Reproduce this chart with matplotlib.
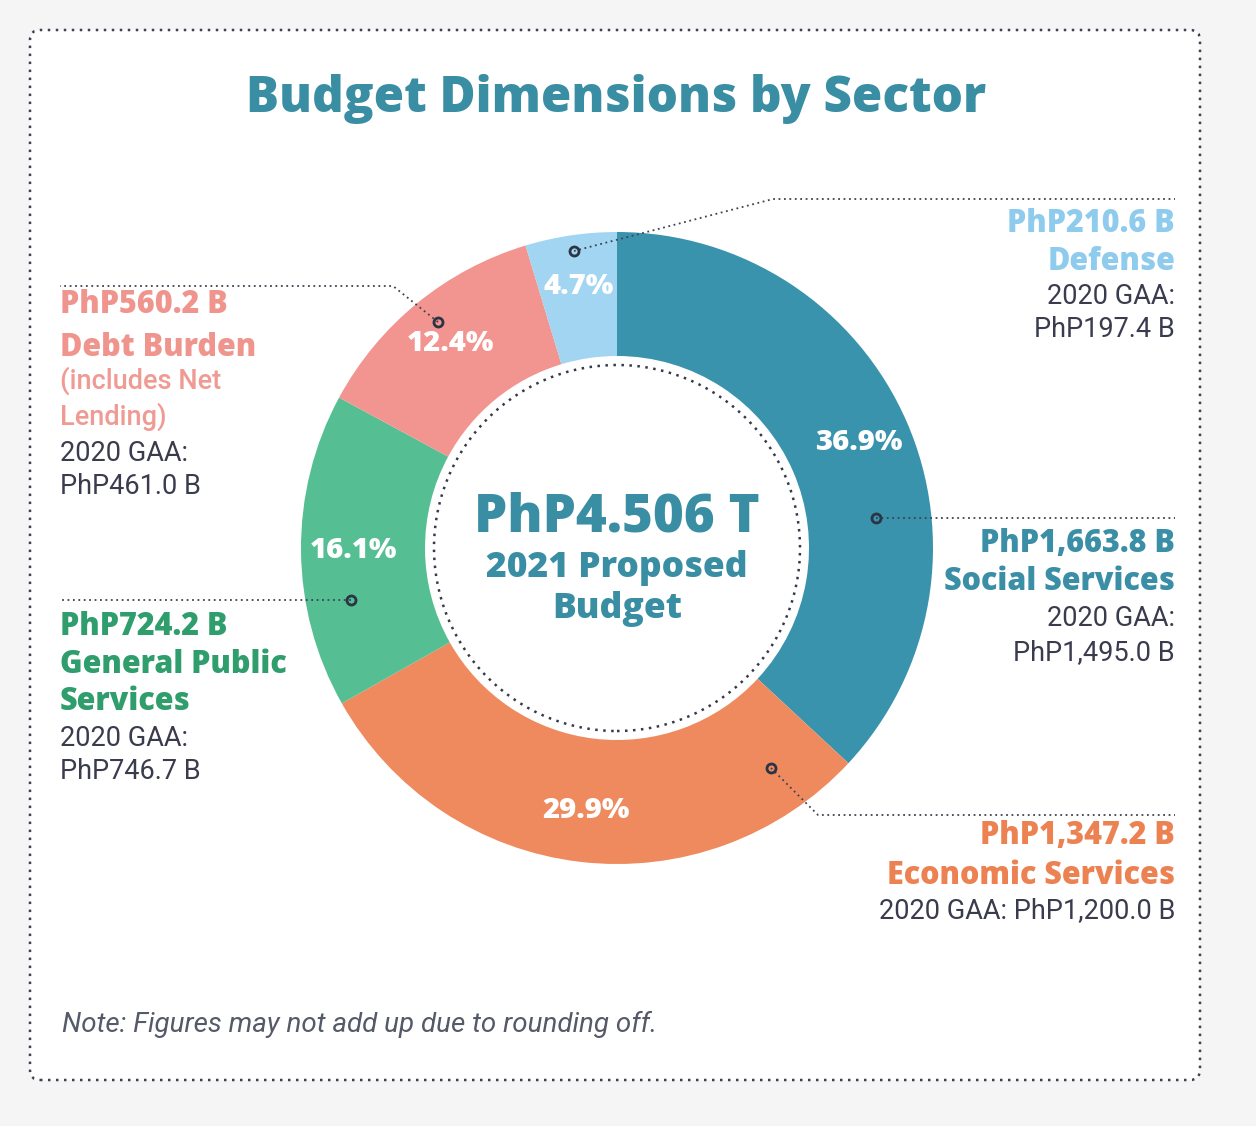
import matplotlib
matplotlib.use("Agg")
import matplotlib.pyplot as plt
from matplotlib.patches import FancyBboxPatch, Circle

# ---------------- data ----------------
sectors = ["Social Services", "Economic Services", "General Public Services",
           "Debt Burden", "Defense"]
amounts_2021 = [1663.8, 1347.2, 724.2, 560.2, 210.6]          # PhP billions
amount_labels = ["PhP1,663.8 B", "PhP1,347.2 B", "PhP724.2 B", "PhP560.2 B", "PhP210.6 B"]
gaa_2020_labels = ["PhP1,495.0 B", "PhP1,200.0 B", "PhP746.7 B", "PhP461.0 B", "PhP197.4 B"]
total_label = "PhP4.506 T"
title = "Budget Dimensions by Sector"
note = "Note: Figures may not add up due to rounding off."

wedge_colors = ["#3a93ac", "#ef8a5f", "#55bf93", "#f2948f", "#a2d5f1"]
label_colors = ["#3a8ea6", "#ec8152", "#2f9d6c", "#f0958e", "#8fcbec"]
DARK = "#3a3c4e"

W, H = 1256, 1126
BOLD = ["Open Sans", "DejaVu Sans"]
REG = ["Roboto", "DejaVu Sans"]

fig = plt.figure(figsize=(W / 100, H / 100), dpi=100)
fig.patch.set_facecolor("#f5f5f5")
ax = fig.add_axes([0, 0, 1, 1])


def Y(y):
    return H - y


# donut
cx, cy, R, ring = 617, 548, 316, 124
wedges, _, autotexts = ax.pie(
    amounts_2021, colors=wedge_colors, startangle=90, counterclock=False,
    radius=R, center=(cx, Y(cy)), autopct="%.1f%%", pctdistance=0.835,
    wedgeprops=dict(width=ring, edgecolor="none"),
    textprops=dict(color="white", fontsize=21, fontweight=800, family=BOLD))
for t in autotexts:
    t.set_zorder(5)

ax.set_xlim(0, W)
ax.set_ylim(0, H)
ax.set_aspect("equal")
ax.axis("off")

# outer dotted rounded frame
frame = FancyBboxPatch((30, Y(1080)), 1170, 1050,
                       boxstyle="round,pad=0,rounding_size=10",
                       facecolor="white", edgecolor="#3d4250",
                       linewidth=1.8, linestyle=(0, (1, 2.2)), zorder=0)
ax.add_patch(frame)

# inner dotted circle
ax.add_patch(Circle((cx, Y(cy)), 183, fill=False, edgecolor="#333a48",
                    linewidth=1.8, linestyle=(0, (1, 2.2)), zorder=4))

# title
ax.text(616, Y(112), title, ha="center", va="baseline", fontsize=35.5,
        fontweight=800, color="#3a8ea3", family=BOLD)

# center text
ax.text(cx, Y(531), total_label, ha="center", va="baseline", fontsize=38,
        fontweight=800, color="#3a8ea3", family=BOLD)
ax.text(cx, Y(577), "2021 Proposed", ha="center", va="baseline", fontsize=25.5,
        fontweight=800, color="#3a8ea3", family=BOLD)
ax.text(cx, Y(618), "Budget", ha="center", va="baseline", fontsize=25.5,
        fontweight=800, color="#3a8ea3", family=BOLD)

# leader lines + markers
LS = dict(color="#3d4250", linewidth=1.3, linestyle=(0, (1, 2)), zorder=6)
MK = dict(marker="o", markersize=6.5, markerfacecolor="none",
          markeredgecolor="#2b3445", markeredgewidth=2, linestyle="none", zorder=7)
leaders = [
    [(876, 518), (1175, 518)],                   # social
    [(771, 768), (818, 815), (1175, 815)],       # economic
    [(351, 600), (60, 600)],                     # general
    [(438, 322), (393, 286), (60, 286)],         # debt
    [(574, 251), (773, 199), (1175, 199)],       # defense
]
for pts in leaders:
    xs = [p[0] for p in pts]
    ys = [Y(p[1]) for p in pts]
    ax.plot(xs, ys, **LS)
    ax.plot(xs[0], ys[0], **MK)

HB = 22     # heading size
BR = 19.5   # regular size


def block(x, ha, lines):
    for text, yb, color, weight in lines:
        bold = weight == "heavy"
        ax.text(x, Y(yb), text, ha=ha, va="baseline",
                fontsize=HB if bold else BR,
                fontweight=800 if bold else weight,
                color=color, family=BOLD if bold else REG)


# Defense (right)
block(1175, "right", [
    (amount_labels[4], 232, label_colors[4], "heavy"),
    (sectors[4], 270, label_colors[4], "heavy"),
    ("2020 GAA:", 304, DARK, "normal"),
    (gaa_2020_labels[4], 337, DARK, "normal"),
])
# Social services (right)
block(1175, "right", [
    (amount_labels[0], 552, label_colors[0], "heavy"),
    (sectors[0], 590, label_colors[0], "heavy"),
    ("2020 GAA:", 626, DARK, "normal"),
    (gaa_2020_labels[0], 660, DARK, "normal"),
])
# Economic services (right)
block(1175, "right", [
    (amount_labels[1], 844, label_colors[1], "heavy"),
    (sectors[1], 884, label_colors[1], "heavy"),
    ("2020 GAA: " + gaa_2020_labels[1], 918, DARK, "normal"),
])
# Debt burden (left)
block(60, "left", [
    (amount_labels[3], 313, label_colors[3], "heavy"),
    (sectors[3], 356, label_colors[3], "heavy"),
    ("(includes Net", 389, "#f09a94", "medium"),
    ("Lending)", 425, "#f09a94", "medium"),
    ("2020 GAA:", 461, DARK, "normal"),
    (gaa_2020_labels[3], 494, DARK, "normal"),
])
# General public services (left)
block(60, "left", [
    (amount_labels[2], 635, label_colors[2], "heavy"),
    ("General Public", 673, label_colors[2], "heavy"),
    ("Services", 710, label_colors[2], "heavy"),
    ("2020 GAA:", 746, DARK, "normal"),
    (gaa_2020_labels[2], 779, DARK, "normal"),
])

# note
ax.text(62, Y(1032), note, ha="left", va="baseline", fontsize=20,
        style="italic", color="#555a68", family=["Roboto", "DejaVu Sans"])

fig.savefig("out.png", dpi=100, facecolor=fig.get_facecolor())
